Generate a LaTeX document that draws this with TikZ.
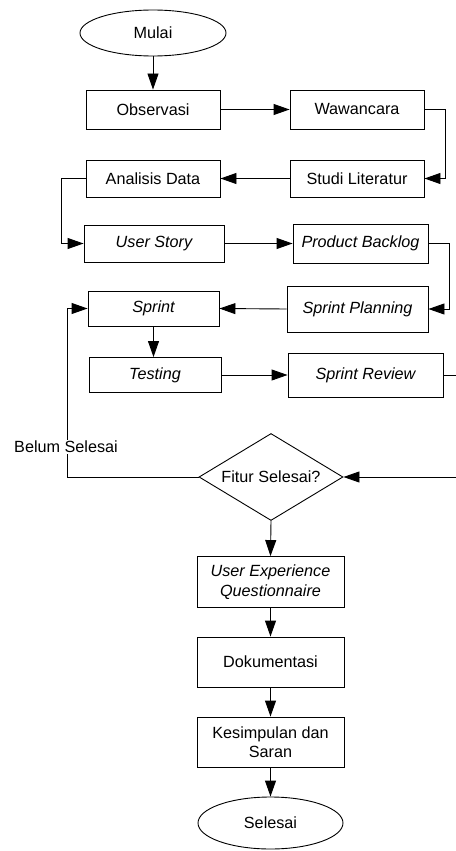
\documentclass[tikz,border=0pt]{standalone}
\usepackage{fontspec}
\setmainfont{Liberation Sans}
\usetikzlibrary{shapes.geometric,arrows.meta}
\begin{document}
\begin{tikzpicture}[x=1pt,y=-1pt,
  every node/.style={font=\fontsize{16.2}{19.5}\selectfont},
  proc/.style={draw, line width=0.9pt, inner sep=0pt, align=center},
  term/.style={draw, ellipse, line width=0.9pt, inner sep=0pt},
  dec/.style={draw, diamond, line width=0.9pt, inner sep=0pt, aspect=1.655, minimum width=144pt, minimum height=87pt},
  conn/.style={line width=0.9pt, -{Triangle[length=16pt,width=11pt]}},
  plain/.style={line width=0.9pt}]
\useasboundingbox (0,0) rectangle (455,851);
\node[term, minimum width=146pt, minimum height=46pt] (mulai) at (153,33) {Mulai};
\node[proc, minimum width=134pt, minimum height=39pt] (obs) at (153,109.5) {Observasi};
\node[proc, minimum width=134pt, minimum height=39pt] (waw) at (357,109.5) {Wawancara};
\node[proc, minimum width=134pt, minimum height=37pt] (stu) at (357,178.5) {Studi Literatur};
\node[proc, minimum width=134pt, minimum height=37pt] (ana) at (153,178.5) {Analisis Data};
\node[proc, minimum width=140pt, minimum height=37pt] (us) at (154,243.5) {\itshape User Story};
\node[proc, minimum width=135pt, minimum height=39pt] (pb) at (360.5,243.5) {\itshape Product Backlog};
\node[proc, minimum width=141pt, minimum height=46pt] (sp) at (357.5,309) {\itshape Sprint Planning};
\node[proc, minimum width=131pt, minimum height=35pt] (spr) at (153.5,308.5) {\itshape Sprint};
\node[proc, minimum width=132pt, minimum height=35pt] (tst) at (155,375) {\itshape Testing};
\node[proc, minimum width=155pt, minimum height=44pt] (sr) at (365.5,375) {\itshape Sprint Review};
\node[dec] (dia) at (271,477) {Fitur Selesai?};
\node[proc, minimum width=147pt, minimum height=51pt] (ueq) at (270.5,582) {\itshape User Experience\\\itshape Questionnaire};
\node[proc, minimum width=147pt, minimum height=50pt] (dok) at (270.5,662) {Dokumentasi};
\node[proc, minimum width=147pt, minimum height=50pt] (kes) at (270.5,742) {Kesimpulan dan\\Saran};
\node[term, minimum width=145pt, minimum height=52pt] (sel) at (270.5,823) {Selesai};
\coordinate (rr) at (458,375);
\coordinate (bl) at (67,477);

\draw[conn] (mulai.south) -- (obs.north);
\draw[conn] (obs.east) -- (waw.west);
\draw[conn] (waw.east) -- ++(21,0) |- (stu.east);
\draw[conn] (stu.west) -- (ana.east);
\draw[conn] (ana.west) -- ++(-24,0) |- (us.west);
\draw[conn] (us.east) -- (pb.west);
\draw[conn] (pb.east) -- ++(21,0) |- (sp.east);
\draw[conn] (sp.west) -- (spr.east);
\draw[conn] (spr.south) -- (spr.south |- tst.north);
\draw[conn] (tst.east) -- (sr.west);
\draw[conn] (sr.east) -- (rr) |- (dia.east);
\draw[conn] (dia.west) -- (bl) |- (spr.west);
\node[fill=white, inner sep=1pt] (lbl) at (66,447) {Belum Selesai};
\draw[conn] (dia.south) -- (ueq.north);
\draw[conn] (ueq.south) -- (dok.north);
\draw[conn] (dok.south) -- (kes.north);
\draw[conn] (kes.south) -- (sel.north);
\end{tikzpicture}
\end{document}
